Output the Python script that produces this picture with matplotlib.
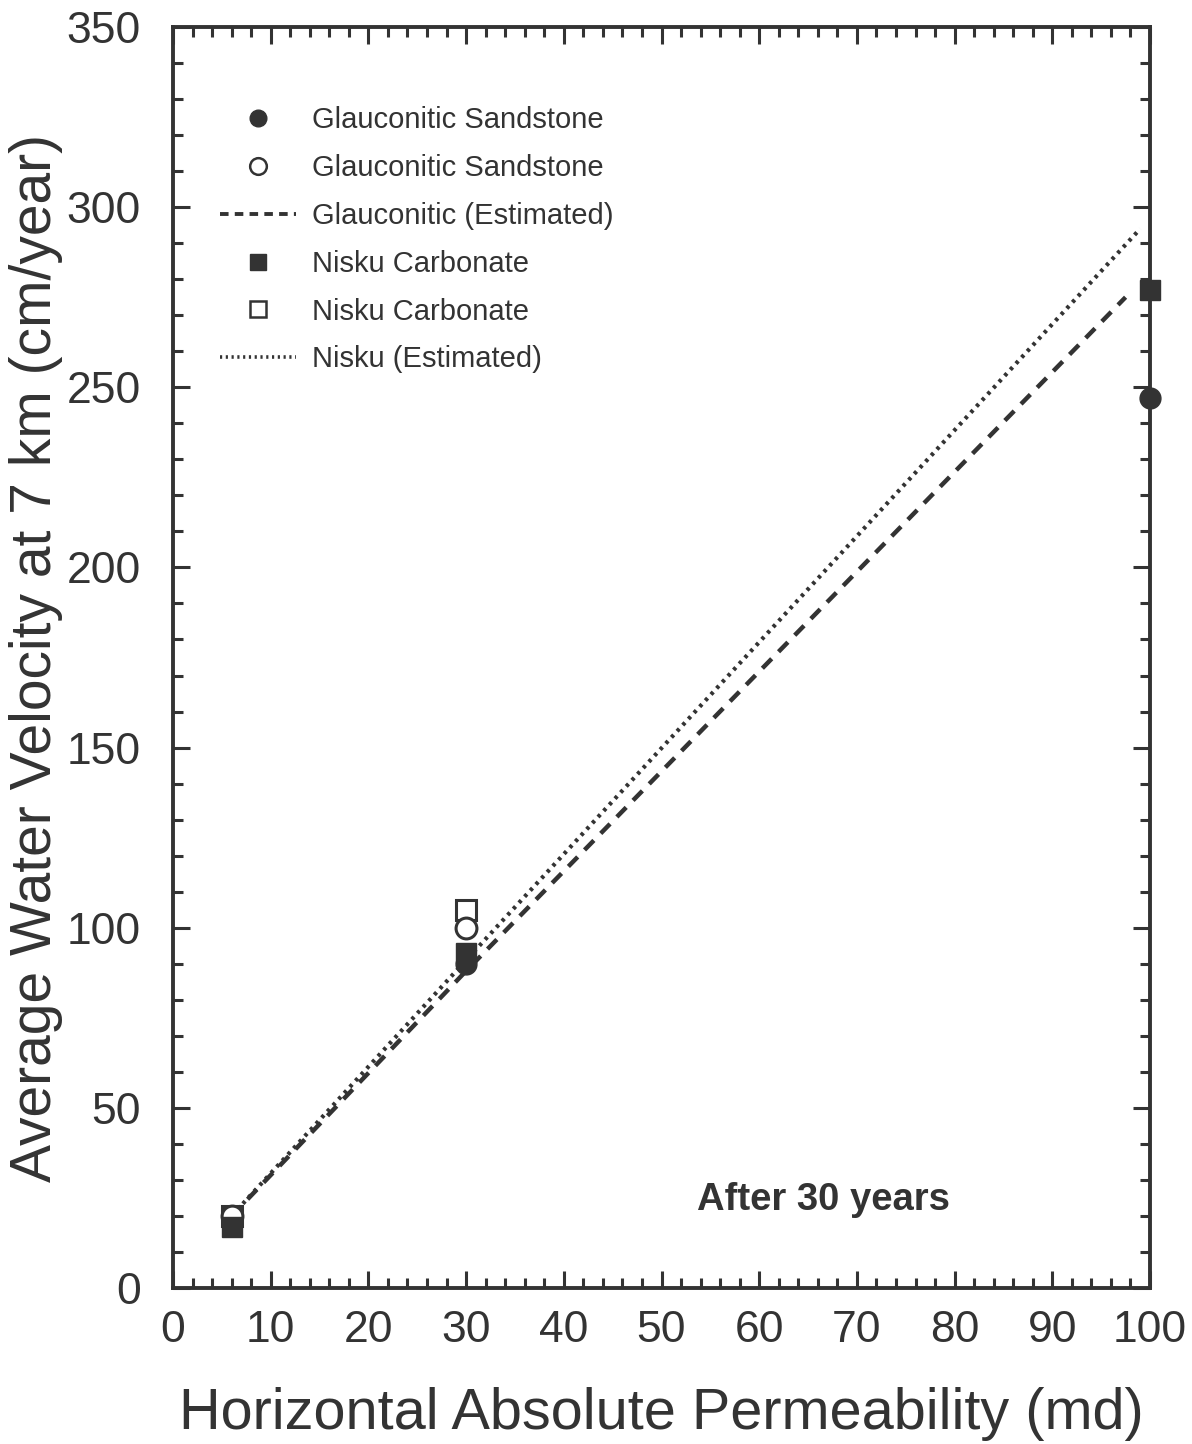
import matplotlib
matplotlib.use("Agg")
import matplotlib.pyplot as plt
from matplotlib.ticker import MultipleLocator
from matplotlib.lines import Line2D

plt.rcParams['font.family'] = ['Liberation Sans', 'DejaVu Sans']

INK = '#333333'

# Simulated results (permeability in md, velocity in cm/year)
glauc_filled_x = [30, 100]
glauc_filled_y = [90, 247]
glauc_open_x = [6, 30]
glauc_open_y = [20, 100]
glauc_est_x = [6, 30, 97.5]
glauc_est_y = [20, 88, 275]

nisku_filled_x = [6, 30, 100]
nisku_filled_y = [17, 93, 277]
nisku_open_x = [6, 30]
nisku_open_y = [20, 105]
nisku_est_x = [6, 30, 99]
nisku_est_y = [20, 91, 294]

legend_labels = ["Glauconitic Sandstone", "Glauconitic Sandstone",
                 "Glauconitic (Estimated)", "Nisku Carbonate",
                 "Nisku Carbonate", "Nisku (Estimated)"]

fig = plt.figure(figsize=(11.92, 14.44), dpi=100)
ax = fig.add_axes([173 / 1192, 1 - 1288 / 1444, (1150 - 173) / 1192, (1288 - 27) / 1444])

ms = 15
ax.plot(glauc_est_x, glauc_est_y, ls=(0, (3, 2.2)), lw=3.2, color=INK, zorder=2)
ax.plot(nisku_est_x, nisku_est_y, ls=(0, (0.8, 1.2)), lw=3.0, color=INK, zorder=2)
ax.plot(nisku_open_x, nisku_open_y, 's', ms=ms, mfc='white', mec=INK, mew=2.2, ls='none', zorder=3, clip_on=False)
ax.plot(glauc_open_x, glauc_open_y, 'o', ms=ms, mfc='white', mec=INK, mew=2.2, ls='none', zorder=3, clip_on=False)
ax.plot(nisku_filled_x, nisku_filled_y, 's', ms=ms, mfc=INK, mec=INK, ls='none', zorder=4, clip_on=False)
ax.plot(glauc_filled_x, glauc_filled_y, 'o', ms=ms, mfc=INK, mec=INK, ls='none', zorder=4, clip_on=False)

ax.set_xlim(0, 100)
ax.set_ylim(0, 350)
ax.xaxis.set_major_locator(MultipleLocator(10))
ax.xaxis.set_minor_locator(MultipleLocator(2))
ax.yaxis.set_major_locator(MultipleLocator(50))
ax.yaxis.set_minor_locator(MultipleLocator(10))
ax.tick_params(which='both', direction='in', top=True, right=True, color=INK,
               labelcolor=INK, labelsize=32, width=2.2)
ax.tick_params(which='major', length=12)
ax.tick_params(axis='y', which='major', pad=23)
ax.tick_params(axis='x', which='major', pad=16)
ax.tick_params(which='minor', length=7)
for s in ax.spines.values():
    s.set_linewidth(2.8)
    s.set_color(INK)

ax.set_xlabel("Horizontal Absolute Permeability (md)", fontsize=41.5, color=INK, labelpad=26)
ax.set_ylabel("Average Water Velocity at 7 km (cm/year)", fontsize=41, color=INK, labelpad=3)

ax.text(53.6, 24.3, "After 30 years", fontsize=27.5, fontweight='bold', color=INK,
        ha='left', va='center')

handles = [
    Line2D([], [], marker='o', ms=12, mfc=INK, mec=INK, ls='none'),
    Line2D([], [], marker='o', ms=12, mfc='white', mec=INK, mew=1.8, ls='none'),
    Line2D([], [], ls=(0, (2.2, 1.6)), lw=2.8, color=INK),
    Line2D([], [], marker='s', ms=12, mfc=INK, mec=INK, ls='none'),
    Line2D([], [], marker='s', ms=12, mfc='white', mec=INK, mew=1.8, ls='none'),
    Line2D([], [], ls=(0, (0.6, 1.0)), lw=2.6, color=INK),
]
leg = ax.legend(handles, legend_labels, loc='upper left', bbox_to_anchor=(0.0216, 0.958),
                frameon=False, fontsize=21, labelcolor=INK, handlelength=2.6,
                handletextpad=0.55, labelspacing=0.68)

fig.savefig("out.png", dpi=100, facecolor='white')
